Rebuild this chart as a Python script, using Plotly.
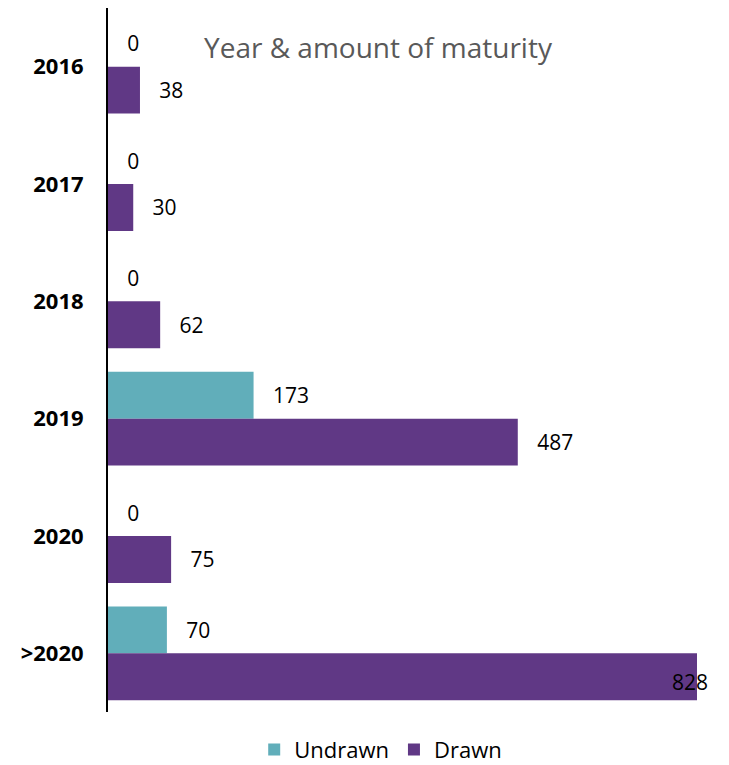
import plotly.graph_objects as go

# Maturity profile by year (amounts)
years = ["2016", "2017", "2018", "2019", "2020", ">2020"]
undrawn = [0, 0, 0, 173, 0, 70]
drawn = [38, 30, 62, 487, 75, 828]

series_names = ["Undrawn", "Drawn"]
series_colors = ["#61AEBA", "#603885"]
x_max = 700  # visible value range; larger bars run off the right edge

label_font = dict(family="Open Sans", size=21, color="#000000")
pad = "\u00a0\u00a0\u00a0"


def bar_trace(name, values, color):
    fits = [v <= x_max for v in values]
    return go.Bar(
        name=name,
        y=years,
        x=values,
        orientation="h",
        marker=dict(color=color, line=dict(width=0)),
        text=[pad + str(v) if f else "" for v, f in zip(values, fits)],
        textposition=["outside" if f else "none" for f in fits],
        textfont=label_font,
        cliponaxis=False,
        hoverinfo="x+y+name",
    )


fig = go.Figure()
for name, vals, col in zip(series_names, [undrawn, drawn], series_colors):
    fig.add_trace(bar_trace(name, vals, col))

# Labels for bars that extend past the visible range sit at the plot edge
for vals, off in zip([undrawn, drawn], [-0.2, 0.2]):
    for i, v in enumerate(vals):
        if v > x_max:
            fig.add_annotation(
                x=x_max, y=i + off, xref="x", yref="y",
                text=str(v), showarrow=False, xanchor="center",
                xshift=-7, yshift=-5, font=label_font,
            )

fig.add_annotation(
    text="Year & amount of maturity",
    xref="paper", yref="paper", x=0.46, y=0.945,
    xanchor="center", yanchor="middle", showarrow=False,
    font=dict(family="Open Sans", size=28, color="#595959"),
)

fig.update_layout(
    width=729, height=765,
    margin=dict(l=108, r=32, t=8, b=53, autoexpand=False),
    paper_bgcolor="white", plot_bgcolor="white",
    barmode="group", bargap=0.2, bargroupgap=0,
    showlegend=True,
    legend=dict(
        orientation="h", x=0.463, xanchor="center",
        yref="container", y=0.02, yanchor="middle",
        font=dict(family="Open Sans", size=22, color="#000000"),
        traceorder="normal", itemwidth=30,
    ),
    xaxis=dict(range=[0, x_max], visible=False, fixedrange=True),
    yaxis=dict(
        autorange="reversed",
        showline=True, linecolor="#000000", linewidth=2,
        showgrid=False, zeroline=False,
        ticks="", ticklabelstandoff=18,
        tickfont=dict(family="Open Sans", size=22, color="#000000", weight="bold"),
    ),
)

fig.write_html("out.html")
